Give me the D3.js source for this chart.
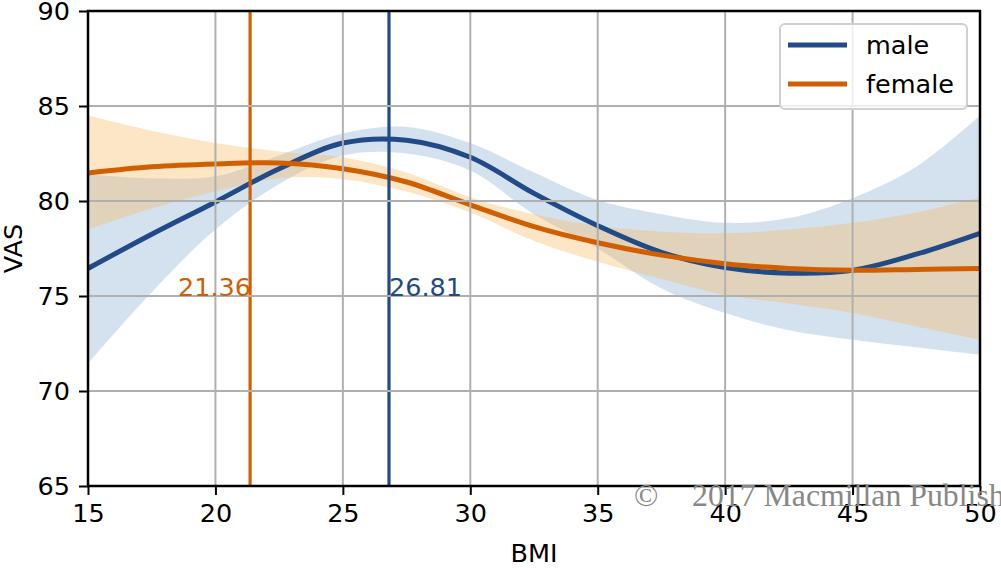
<!DOCTYPE html>
<html>
<head>
<meta charset="utf-8">
<script src="https://cdn.jsdelivr.net/npm/d3@7"></script>
<style>
  body { margin: 0; background: #fff; }
  text { font-family: "DejaVu Sans", sans-serif; }
</style>
</head>
<body>
<svg id="chart"></svg>
<script>
const bmi = [15, 17.5, 20, 22.5, 25, 27.5, 30, 32.5, 35, 37.5, 40, 42.5, 45, 47.5, 50];

const maleMean = [76.45, 78.25, 79.95, 81.7, 83.05, 83.2, 82.3, 80.4, 78.7, 77.3, 76.5, 76.2, 76.35, 77.2, 78.3];
const maleLow = [71.45, 75.2, 78.5, 80.9, 82.4, 82.5, 81.6, 79.3, 77.5, 75.4, 74.1, 73.2, 72.7, 72.3, 71.9];
const maleHigh = [81.4, 81.2, 81.3, 82.4, 83.55, 83.9, 83.05, 81.5, 80.05, 79.3, 78.85, 79.1, 80.15, 81.8, 84.5];

const femaleMean = [81.47, 81.8, 81.95, 82.0, 81.7, 81.0, 79.8, 78.65, 77.8, 77.15, 76.7, 76.45, 76.35, 76.4, 76.45];
const femaleLow = [78.5, 79.6, 80.5, 81.2, 81.15, 80.5, 79.4, 77.9, 76.8, 75.9, 75.05, 74.6, 74.1, 73.4, 72.7];
const femaleHigh = [84.5, 83.7, 83.05, 82.6, 82.3, 81.5, 80.2, 79.3, 78.7, 78.4, 78.3, 78.5, 78.85, 79.4, 80.2];

const peaks = [{name: 'female', bmi: 21.36}, {name: 'male', bmi: 26.81}];
const series = ['male', 'female'];
const xTicks = [15, 20, 25, 30, 35, 40, 45, 50];
const yTicks = [65, 70, 75, 80, 85, 90];

const width = 1001;
const height = 573;
const margin = {top: 11, right: 21, bottom: 87, left: 88};
const innerW = width - margin.left - margin.right;
const innerH = height - margin.top - margin.bottom;
const lineColor = {male: '#214a87', female: '#d15f02'};
const bandColor = {male: '#a9c5e2', female: '#f9b759'};
const bandOpacity = {male: 0.5, female: 0.35};

const svg = d3.select('#chart').
attr('width', width).
attr('height', height);

const x = d3.scaleLinear().domain([15, 50]).range([0, innerW]);
const y = d3.scaleLinear().domain([65, 90]).range([innerH, 0]);

svg.append('defs').append('clipPath').attr('id', 'clip').
append('rect').attr('width', innerW).attr('height', innerH);

const g = svg.append('g').
attr('transform', 'translate(' + margin.left + ',' + margin.top + ')');

const plot = g.append('g').attr('clip-path', 'url(#clip)');

const data = {
  male: bmi.map((b, i) => ({b: b, m: maleMean[i], lo: maleLow[i], hi: maleHigh[i]})),
  female: bmi.map((b, i) => ({b: b, m: femaleMean[i], lo: femaleLow[i], hi: femaleHigh[i]}))
};

const area = d3.area().
x(d => x(d.b)).
y0(d => y(d.lo)).
y1(d => y(d.hi)).
curve(d3.curveCatmullRom.alpha(0.5));

const line = d3.line().
x(d => x(d.b)).
y(d => y(d.m)).
curve(d3.curveCatmullRom.alpha(0.5));

// confidence bands
series.forEach(function (s) {
  plot.append('path').
  datum(data[s]).
  attr('d', area).
  attr('fill', bandColor[s]).
  attr('fill-opacity', bandOpacity[s]);
});

// grid
g.append('g').selectAll('line').
data(xTicks).
enter().
append('line').
attr('x1', d => x(d)).attr('x2', d => x(d)).
attr('y1', 0).attr('y2', innerH).
attr('stroke', '#b0b0b0').attr('stroke-width', 2);

g.append('g').selectAll('line').
data(yTicks).
enter().
append('line').
attr('x1', 0).attr('x2', innerW).
attr('y1', d => y(d)).attr('y2', d => y(d)).
attr('stroke', '#b0b0b0').attr('stroke-width', 2);

// mean curves
series.forEach(function (s) {
  plot.append('path').
  datum(data[s]).
  attr('d', line).
  attr('fill', 'none').
  attr('stroke', lineColor[s]).
  attr('stroke-width', 5);
});

// peak markers
plot.selectAll('.peak').
data(peaks).
enter().
append('line').
attr('class', 'peak').
attr('x1', d => x(d.bmi)).attr('x2', d => x(d.bmi)).
attr('y1', 0).attr('y2', innerH).
attr('stroke', d => lineColor[d.name]).
attr('stroke-width', 3.2);

g.selectAll('.peak-label').
data(peaks).
enter().
append('text').
attr('class', 'peak-label').
attr('x', d => d.name === 'female' ? x(d.bmi) + 1 : x(d.bmi)).
attr('y', y(75)).
attr('text-anchor', d => d.name === 'female' ? 'end' : 'start').
attr('fill', d => lineColor[d.name]).
style('font-size', '25.5px').
text(d => d.bmi.toFixed(2));

// axes
const xAxis = g.append('g').
attr('transform', 'translate(0,' + innerH + ')').
call(d3.axisBottom(x).tickValues(xTicks).tickSize(9).tickPadding(9).tickFormat(d3.format('d')));

const yAxis = g.append('g').
call(d3.axisLeft(y).tickValues(yTicks).tickSize(9).tickPadding(9).tickFormat(d3.format('d')));

[xAxis, yAxis].forEach(function (a) {
  a.select('.domain').remove();
  a.selectAll('.tick line').attr('stroke', '#000').attr('stroke-width', 2);
  a.selectAll('.tick text').
  attr('fill', '#000').
  style('font-family', '"DejaVu Sans", sans-serif').
  style('font-size', '25.5px');
});

g.append('rect').
attr('width', innerW).
attr('height', innerH).
attr('fill', 'none').
attr('stroke', '#000').
attr('stroke-width', 2.5);

g.append('text').
attr('x', innerW / 2).
attr('y', innerH + 76).
attr('text-anchor', 'middle').
style('font-size', '25.5px').
text('BMI');

g.append('text').
attr('transform', 'translate(' + (22 - margin.left) + ',' + innerH / 2 + ') rotate(-90)').
attr('text-anchor', 'middle').
style('font-size', '25.5px').
text('VAS');

// legend
const legend = svg.append('g').attr('transform', 'translate(780,24)');

legend.append('rect').
attr('width', 187).
attr('height', 85).
attr('rx', 5).
attr('fill', '#fff').
attr('fill-opacity', 0.8).
attr('stroke', '#d0d0d0').
attr('stroke-width', 2);

const legendItem = legend.selectAll('.legend-item').
data(series).
enter().
append('g').
attr('class', 'legend-item').
attr('transform', (d, i) => 'translate(0,' + (21 + i * 39) + ')');

legendItem.append('line').
attr('x1', 8).attr('x2', 67).
attr('stroke', d => lineColor[d]).
attr('stroke-width', 5);

legendItem.append('text').
attr('x', 86).
attr('y', 9).
style('font-size', '25.5px').
text(d => d);

// watermark
const mark = svg.append('g').
attr('fill', '#888');

mark.append('text').attr('x', 634).attr('y', 506).
style('font-family', '"Liberation Serif", serif').style('font-size', '32px').text('©');
mark.append('text').attr('x', 692).attr('y', 506).
style('font-family', '"Liberation Serif", serif').style('font-size', '31.8px').text('2017 Macmillan Publishers Limited');
</script>
</body>
</html>
